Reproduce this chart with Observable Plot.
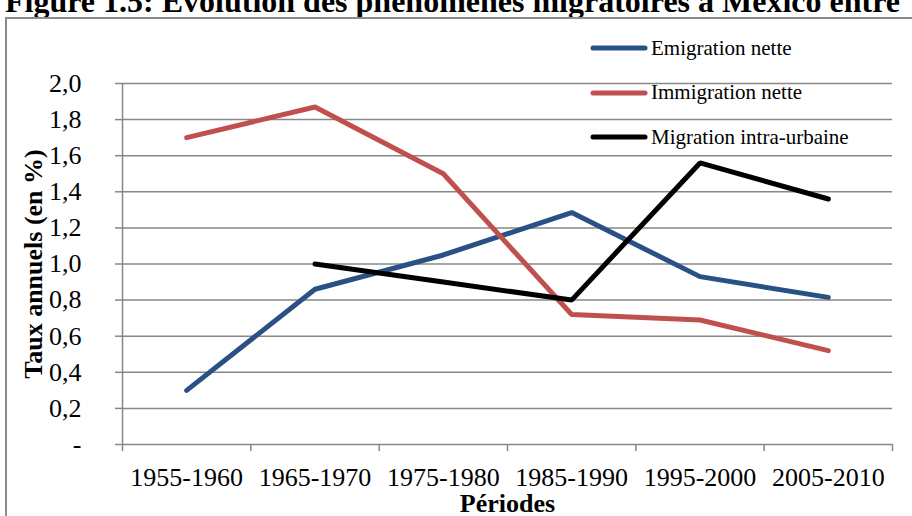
<!DOCTYPE html>
<html><head><meta charset="utf-8">
<script src="https://cdn.jsdelivr.net/npm/d3@7"></script>
<script src="https://cdn.jsdelivr.net/npm/@observablehq/plot@0.6"></script>
<style>
body{margin:0;background:#fff;}
#wrap{position:relative;width:912px;height:516px;overflow:hidden;font-family:"Liberation Serif","Times New Roman",serif;background:#fff;}
#title{position:absolute;left:5px;top:-15px;font-size:32px;line-height:32px;font-weight:bold;white-space:nowrap;color:#000;}
#frame{position:absolute;left:5px;top:17px;width:940px;height:540px;border:2px solid #8c8c8c;box-sizing:border-box;}
#chart{position:absolute;left:0;top:0;}
#legend{position:absolute;left:590px;top:30px;font-size:21px;color:#000;}
.item{position:absolute;left:0;white-space:nowrap;height:24px;display:flex;align-items:center;}
.item svg{margin-right:3px;}
</style></head><body>
<div id="wrap">
<div id="title">Figure 1.5: Évolution des phénomènes migratoires à Mexico entre</div>
<div id="frame"></div>
<div id="chart"></div>
<div id="legend"></div>
</div>
<script>
const periods = ["1955-1960","1965-1970","1975-1980","1985-1990","1995-2000","2005-2010"];
const emigration = [0.30, 0.86, 1.05, 1.285, 0.93, 0.815];
const immigration = [1.70, 1.87, 1.50, 0.72, 0.69, 0.52];
const intraUrbaine = [null, 1.00, 0.90, 0.80, 1.56, 1.36];
const seriesNames = ["Emigration nette","Immigration nette","Migration intra-urbaine"];
const seriesColors = ["#2a5185","#c0504d","#000000"];
const yTicks = [0,0.2,0.4,0.6,0.8,1.0,1.2,1.4,1.6,1.8,2.0];

const seriesValues = [emigration, immigration, intraUrbaine];
const rows = [];
seriesValues.forEach((vals, s) => vals.forEach((v, i) => rows.push({i, v, s: seriesNames[s]})));

const grid = "#878787";
const fmt = d => d === 0 ? "-" : d.toFixed(1).replace(".", ",");
const boundaries = d3.range(periods.length + 1).map(k => k - 0.5);

const chart = Plot.plot({
  width: 912, height: 516,
  marginLeft: 122, marginRight: 20, marginTop: 83, marginBottom: 72,
  style: {fontFamily: '"Liberation Serif","Times New Roman",serif', background: "transparent", color: "#000"},
  x: {type: "linear", domain: [-0.5, periods.length - 0.5]},
  y: {domain: [0, 2]},
  color: {domain: seriesNames, range: seriesColors},
  marks: [
    Plot.gridY(yTicks.slice(1), {stroke: grid, strokeOpacity: 1, strokeWidth: 1.5}),
    Plot.ruleX([-0.5], {stroke: grid, strokeWidth: 1.5}),
    Plot.ruleY([0], {stroke: grid, strokeWidth: 1.5}),
    Plot.axisY(yTicks, {tickSize: 7, tickPadding: 34, tickFormat: fmt, stroke: grid, strokeWidth: 1.5, fill: "#000", fontSize: 26, label: null}),
    Plot.axisX(boundaries, {tickSize: 7, tickFormat: () => "", stroke: grid, strokeWidth: 1.5, label: null}),
    Plot.axisX(d3.range(periods.length), {tickSize: 0, tickPadding: 23, tickFormat: i => periods[i], fill: "#000", fontSize: 26, label: null}),
    Plot.text(["Périodes"], {frameAnchor: "bottom", lineAnchor: "middle", textAnchor: "middle", dy: 59, fontSize: 26, fontWeight: "bold", fill: "#000"}),
    Plot.text(["Taux annuels (en %)"], {frameAnchor: "left", lineAnchor: "middle", textAnchor: "middle", rotate: -90, dx: -89, fontSize: 26, fontWeight: "bold", fill: "#000"}),
    Plot.line(rows, {x: "i", y: "v", z: "s", stroke: "s", strokeWidth: 5, strokeLinejoin: "miter", strokeLinecap: "round"})
  ]
});
document.getElementById("chart").appendChild(chart);

const legend = document.getElementById("legend");
seriesNames.forEach((name, k) => {
  const div = document.createElement("div");
  div.className = "item";
  div.style.top = (k * 44.5 + 6) + "px";
  div.innerHTML = `<svg width="58" height="10"><line x1="3" y1="5" x2="55" y2="5" stroke="${seriesColors[k]}" stroke-width="5" stroke-linecap="round"/></svg><span>${name}</span>`;
  legend.appendChild(div);
});
</script>
</body></html>
